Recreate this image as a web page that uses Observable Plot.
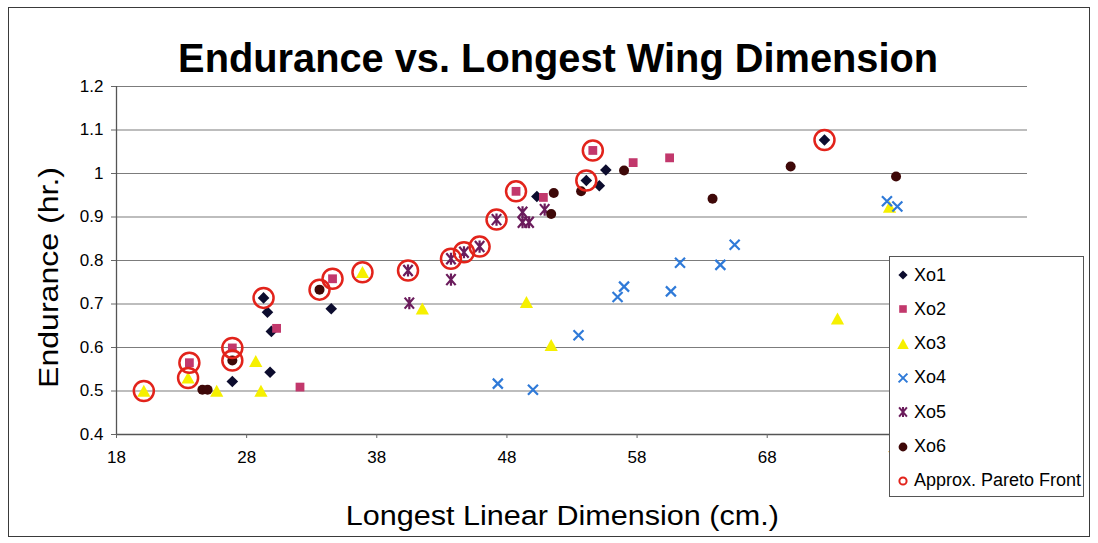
<!DOCTYPE html>
<html><head><meta charset="utf-8">
<script src="https://cdn.jsdelivr.net/npm/d3@7"></script>
<script src="https://cdn.jsdelivr.net/npm/@observablehq/plot@0.6"></script>
<style>
body{margin:0;background:#fff;}
#wrap{position:relative;width:1098px;height:543px;font-family:"Liberation Sans",Arial,sans-serif;overflow:hidden;background:#fff;color:#000;}
#frame{position:absolute;left:8px;top:7px;width:1082px;height:530px;border:1.5px solid #3a3a3a;box-sizing:border-box;pointer-events:none;}
.lbl{position:absolute;white-space:nowrap;line-height:1;}
#title{font-weight:bold;font-size:40px;}
#xlab{font-size:27px;}
#ylab{font-size:27px;}
#legend{position:absolute;left:889px;top:256px;width:195px;height:241px;border:1px solid #555;background:#fff;box-sizing:border-box;}
.li{position:absolute;left:0;height:20px;display:flex;align-items:center;font-size:18px;}
.li svg{width:20px;height:20px;margin-left:3px;}
.li span{margin-left:1px;}
</style>
</head><body>
<div id="wrap">
  <div id="chart"></div>
  <div id="title" class="lbl">Endurance vs. Longest Wing Dimension</div>
  <div id="xlab" class="lbl">Longest Linear Dimension (cm.)</div>
  <div id="ylab" class="lbl">Endurance (hr.)</div>
  <div id="legend"></div>
  <div id="frame"></div>
</div>
<script>
// ---- data (x = longest linear dimension cm, y = endurance hr) ----
const xo1 = [[26.9,0.522],[29.3,0.714],[29.6,0.681],[29.9,0.637],[29.8,0.543],[34.5,0.689],[50.3,0.947],[54.1,0.984],[55.1,0.972],[55.6,1.008],[72.4,1.077]];
const xo2 = [[23.6,0.565],[26.9,0.599],[30.3,0.644],[32.1,0.509],[34.6,0.758],[48.7,0.959],[50.8,0.945],[54.6,1.053],[57.7,1.025],[60.5,1.036]];
const xo3 = [[20.1,0.500],[23.5,0.530],[25.7,0.500],[28.7,0.568],[29.1,0.500],[36.9,0.773],[41.5,0.689],[49.5,0.704],[51.4,0.605],[73.4,0.666],[77.4,0.923]];
const xo4 = [[47.3,0.517],[50.0,0.503],[53.5,0.628],[56.5,0.716],[57.0,0.740],[60.6,0.729],[61.3,0.795],[64.4,0.790],[65.5,0.836],[77.2,0.936],[78.0,0.924]];
const xo5 = [[40.4,0.777],[40.5,0.702],[43.7,0.804],[43.7,0.756],[44.7,0.819],[45.9,0.832],[47.2,0.894],[49.2,0.911],[49.2,0.888],[49.7,0.888],[50.9,0.917]];
const xo6 = [[24.6,0.503],[25.0,0.503],[26.9,0.570],[33.6,0.733],[51.6,0.955],[51.4,0.907],[53.7,0.959],[57.0,1.007],[63.8,0.942],[69.8,1.016],[77.9,0.993]];
const pareto = [[20.1,0.500],[23.5,0.530],[23.6,0.565],[26.9,0.599],[26.9,0.570],[29.3,0.714],[33.6,0.733],[34.6,0.758],[36.9,0.773],[40.4,0.777],[43.7,0.804],[44.7,0.819],[45.9,0.832],[47.2,0.894],[48.7,0.959],[54.1,0.984],[54.6,1.053],[72.4,1.077]];
const xTicks = [18,28,38,48,58,68,78,88];
const yTicks = [0.4,0.5,0.6,0.7,0.8,0.9,1.0,1.1,1.2];
const seriesNames = ["Xo1","Xo2","Xo3","Xo4","Xo5","Xo6","Approx. Pareto Front"];

// ---- styles ----
const C = {xo1:"#0c0c2e", xo2:"#c2386c", xo3:"#f6f000", xo4:"#2f7ad8", xo5:"#6b1c5c", xo6:"#3e0808", par:"#e2231b"};
const rad = s => Math.sqrt(s/Math.PI);
const symDiamond = {draw(c,s){const r=rad(s);c.moveTo(0,-r);c.lineTo(r,0);c.lineTo(0,r);c.lineTo(-r,0);c.closePath();}};
const symSquare = {draw(c,s){const r=rad(s);c.rect(-r,-r,2*r,2*r);}};
const symTri = {draw(c,s){const r=rad(s);c.moveTo(0,-r);c.lineTo(r*1.05,r*0.9);c.lineTo(-r*1.05,r*0.9);c.closePath();}};
const symX = {draw(c,s){const r=rad(s);c.moveTo(-r,-r);c.lineTo(r,r);c.moveTo(-r,r);c.lineTo(r,-r);}};
const symStar = {draw(c,s){const r=rad(s);c.moveTo(-r*0.85,-r);c.lineTo(r*0.85,r);c.moveTo(-r*0.85,r);c.lineTo(r*0.85,-r);c.moveTo(0,-r*1.1);c.lineTo(0,r*1.1);}};
const symCircle = {draw(c,s){const r=rad(s);c.moveTo(r,0);c.arc(0,0,r,0,2*Math.PI);}};

const px = d => d[0], py = d => d[1];
const fmt = d => String(+d.toFixed(1));

const chart = Plot.plot({
  width: 1098, height: 543,
  marginLeft: 116, marginRight: 71, marginTop: 86, marginBottom: 109,
  x: {domain: [18, 88]},
  y: {domain: [0.4, 1.2]},
  style: {fontFamily: "'Liberation Sans', Arial, sans-serif", background: "transparent", color: "#000"},
  marks: [
    Plot.gridY(yTicks, {stroke: "#7c7c7c", strokeOpacity: 1, strokeWidth: 1.2}),
    Plot.ruleX([18], {stroke: "#555", strokeWidth: 1.3}),
    Plot.ruleY([0.4], {stroke: "#555", strokeWidth: 1.3}),
    Plot.axisY({ticks: yTicks, tickFormat: fmt, tickSize: 5, tickPadding: 8, fontSize: 17, label: null, stroke: "#666"}),
    Plot.axisX({ticks: xTicks, tickSize: 4, tickPadding: 12, fontSize: 17, label: null, stroke: "#666"}),
    Plot.dot(xo1, {x: px, y: py, symbol: symDiamond, r: 5.8, fill: C.xo1, stroke: "none"}),
    Plot.dot(xo2, {x: px, y: py, symbol: symSquare, r: 4.4, fill: C.xo2, stroke: "none"}),
    Plot.dot(xo3, {x: px, y: py, symbol: symTri, r: 6.3, fill: C.xo3, stroke: "none"}),
    Plot.dot(xo4, {x: px, y: py, symbol: symX, r: 5, fill: "none", stroke: C.xo4, strokeWidth: 2.2}),
    Plot.dot(xo5, {x: px, y: py, symbol: symStar, r: 5.5, fill: "none", stroke: C.xo5, strokeWidth: 2.2}),
    Plot.dot(xo6, {x: px, y: py, symbol: symCircle, r: 5, fill: C.xo6, stroke: "none"}),
    Plot.dot(pareto, {x: px, y: py, symbol: symCircle, r: 10, fill: "none", stroke: C.par, strokeWidth: 2.5})
  ]
});
document.getElementById("chart").appendChild(chart);

// ---- legend ----
const legendSpec = [
  {sym: symDiamond, r: 4.6, fill: C.xo1, stroke: "none", sw: 0},
  {sym: symSquare, r: 3.8, fill: C.xo2, stroke: "none", sw: 0},
  {sym: symTri, r: 5.5, fill: C.xo3, stroke: "none", sw: 0},
  {sym: symX, r: 4.4, fill: "none", stroke: C.xo4, sw: 2},
  {sym: symStar, r: 4.6, fill: "none", stroke: C.xo5, sw: 2},
  {sym: symCircle, r: 4.4, fill: C.xo6, stroke: "none", sw: 0},
  {sym: symCircle, r: 3.6, fill: "none", stroke: C.par, sw: 2}
];
const legend = document.getElementById("legend");
seriesNames.forEach((name, i) => {
  const s = legendSpec[i];
  const p = d3.path(); s.sym.draw(p, s.r*s.r*Math.PI);
  const row = document.createElement("div");
  row.className = "li";
  row.style.top = (8 + i*34.3) + "px";
  row.innerHTML = `<svg viewBox="-10 -10 20 20"><path d="${p}" fill="${s.fill}" stroke="${s.stroke}" stroke-width="${s.sw}"/></svg><span>${name}</span>`;
  legend.appendChild(row);
});

// ---- text placement (fit widths to the reference) ----
function place(id, cx, baselineY, targetW, rotate) {
  const el = document.getElementById(id);
  const fs = parseFloat(getComputedStyle(el).fontSize);
  const w = el.getBoundingClientRect().width;
  const sx = targetW / w;
  el.style.left = (cx - w/2) + "px";
  if (!rotate) {
    el.style.top = (baselineY - 0.8465*fs) + "px";
    el.style.transform = `scaleX(${sx})`;
  } else {
    el.style.top = (baselineY - fs/2) + "px";
    el.style.transform = `rotate(-90deg) scaleX(${sx})`;
  }
  el.style.transformOrigin = "50% 50%";
}
place("title", 558, 72, 760, false);
place("xlab", 562, 526, 433, false);
place("ylab", 49, 277, 221, true);
</script>
</body></html>
